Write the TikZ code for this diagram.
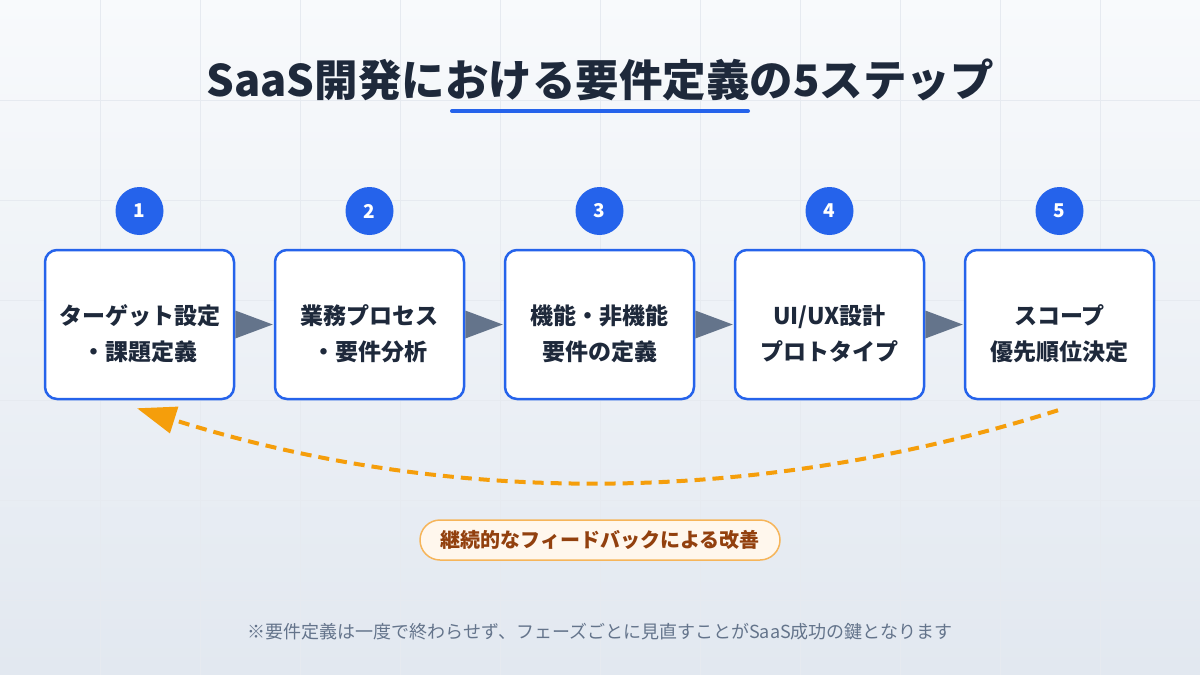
\documentclass[tikz,border=0pt]{standalone}
\usepackage{fontspec}
\setmainfont{Noto Sans CJK JP}
\usetikzlibrary{arrows.meta,calc}
\definecolor{bgtop}{HTML}{F8FAFC}
\definecolor{bgbot}{HTML}{E2E8F0}
\definecolor{gridc}{HTML}{E6EAF0}
\definecolor{blue}{HTML}{2563EB}
\definecolor{ink}{HTML}{1E293B}
\definecolor{slate}{HTML}{64748B}
\definecolor{amber}{HTML}{F59E0B}
\definecolor{pillfill}{HTML}{FFF7ED}
\definecolor{pillline}{HTML}{F6B55A}
\definecolor{brown}{HTML}{92400E}
\tikzset{
  stepbox/.style={draw=blue, line width=2.5pt, fill=white, rounded corners=12pt,
    minimum width=189pt, minimum height=149pt, inner sep=0pt},
  boxtext/.style={font=\fontsize{23}{36}\selectfont\bfseries, text=ink, align=center, inner sep=0pt},
  numdot/.style={circle, fill=blue, minimum size=48pt, inner sep=0pt, text=white,
    font=\fontsize{19}{19}\selectfont\bfseries},
  flowtri/.style={fill=slate},
}
\begin{document}
\begin{tikzpicture}[x=1pt,y=-1pt]
\useasboundingbox (0,0) rectangle (1200,675);
\shade[top color=bgtop, bottom color=bgbot] (0,0) rectangle (1200,675);
\foreach \gx in {100,200,...,1100} \draw[gridc, line width=1pt] (\gx,0) -- (\gx,675);
\foreach \gy in {100,200,...,600} \draw[gridc, line width=1pt] (0,\gy) -- (1200,\gy);

% title
\node[font=\fontsize{43.5}{43.5}\selectfont\bfseries, text=ink] (title) at (600,80) {SaaS開発における要件定義の5ステップ};
\draw[blue, line width=4pt, line cap=round] (452,111) -- (748,111);

% boxes
\foreach \i/\cx/\la/\lb in {1/139.5/{ターゲット設定}/{・課題定義}, 2/369.5/{業務プロセス}/{・要件分析},
  3/599.5/{機能・非機能}/{要件の定義}, 4/829.5/{UI/UX設計}/{プロトタイプ}, 5/1059.5/{スコープ}/{優先順位決定}}{
  \node[stepbox] (b\i) at (\cx,324.5) {};
  \node[numdot] (c\i) at (\cx,211) {\i};
  \node[boxtext] (t\i) at (\cx,334) {\la\\\lb};
}

% flow triangles
\foreach \i/\j in {1/2,2/3,3/4,4/5}{
  \fill[flowtri] ($(b\i.east)+(0,-14)$) -- ($(b\i.east)+(0,14)$) -- ($(b\j.west)+(-1,0)$) -- cycle;
}

% feedback loop
\coordinate (fs) at ($(b5.south)+(-1.5,10)$);
\coordinate (fe) at ($(b1.south)+(-2.5,8)$);
\draw[amber, line width=4pt, dash pattern=on 11pt off 7pt, -{Triangle[length=39pt,width=27pt]}]
  (fs) .. controls (752,507) and (446,506) .. (fe);

% pill
\node[draw=pillline, line width=1.5pt, fill=pillfill, rounded corners=20pt,
  minimum width=360pt, minimum height=40pt, inner sep=0pt, text=brown,
  font=\fontsize{20}{20}\selectfont\bfseries] (pill) at (600,540) {継続的なフィードバックによる改善};

% footer
\node[text=slate, font=\fontsize{18}{18}\selectfont] (foot) at (600,632)
  {※要件定義は一度で終わらせず、フェーズごとに見直すことがSaaS成功の鍵となります};
\end{tikzpicture}
\end{document}
